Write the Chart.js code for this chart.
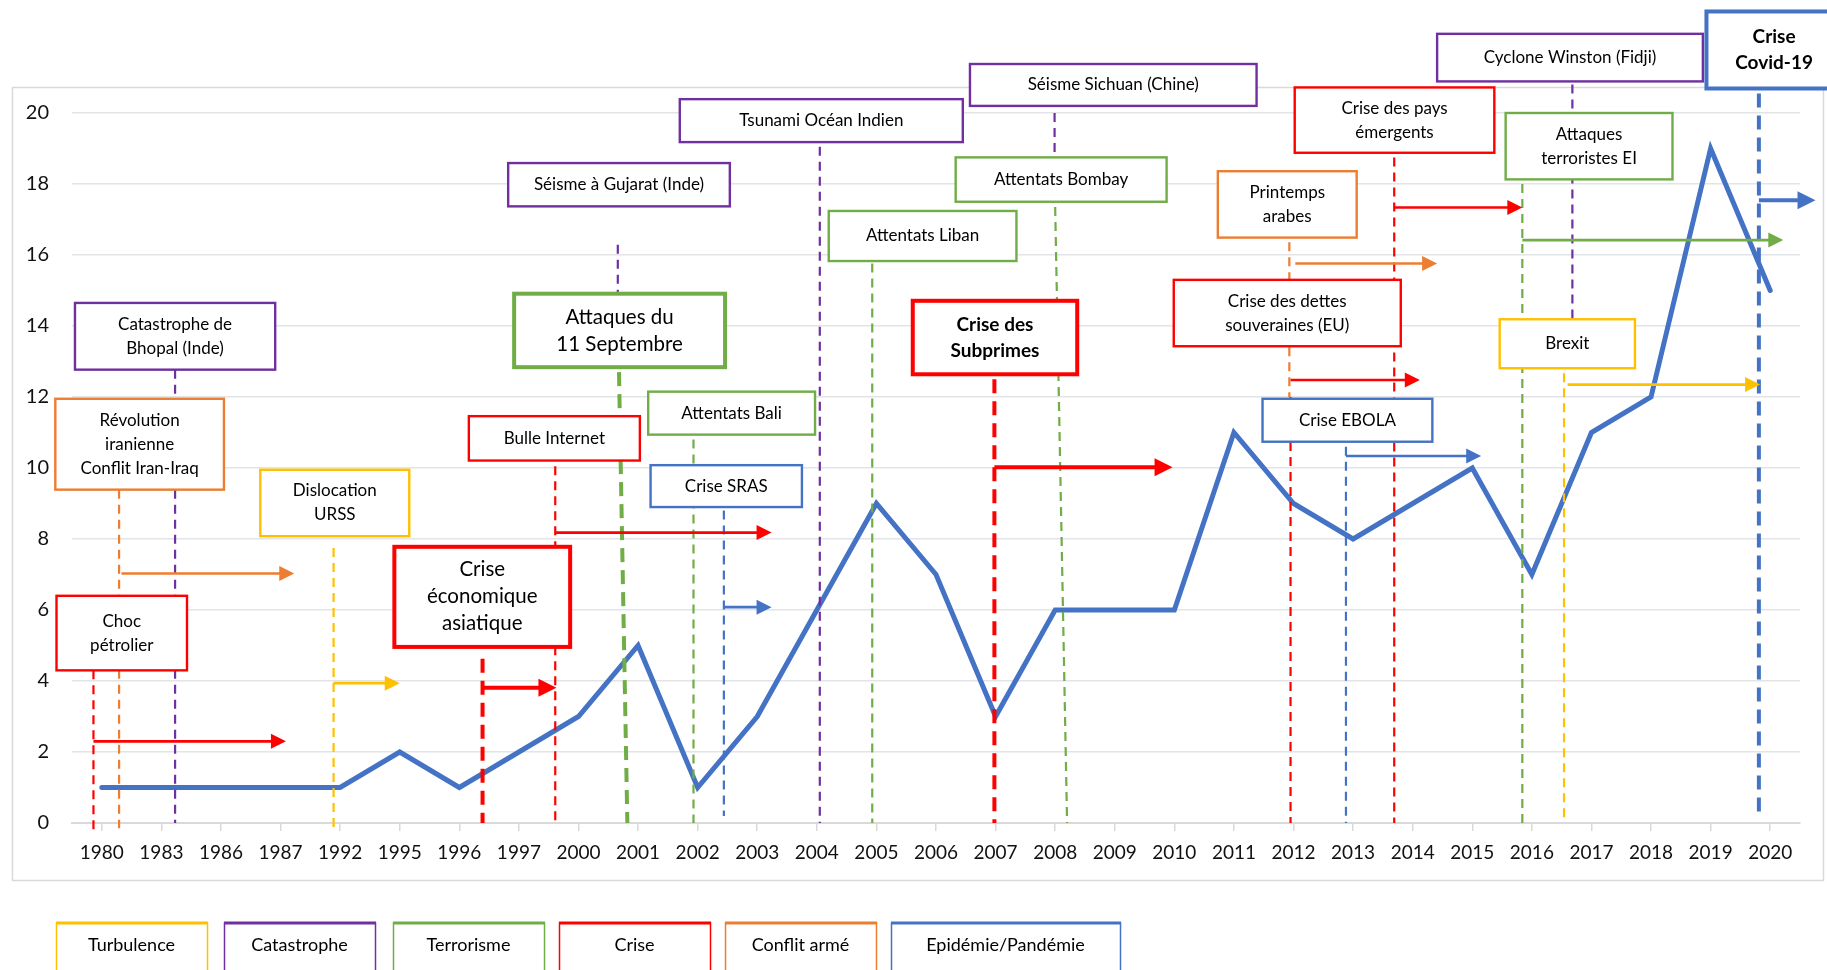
<!DOCTYPE html>
<html><head><meta charset="utf-8">
<script src="https://cdn.jsdelivr.net/npm/chart.js@4.4.0/dist/chart.umd.min.js"></script>
<style>html,body{margin:0;padding:0;background:#fff;overflow:hidden}</style>
</head><body>
<canvas id="c" width="1827" height="970"></canvas>
<script>
// ---- data ----
const years = ['1980','1983','1986','1987','1992','1995','1996','1997','2000','2001','2002','2003','2004','2005','2006','2007','2008','2009','2010','2011','2012','2013','2014','2015','2016','2017','2018','2019','2020'];
const counts = [1,1,1,1,1,2,1,2,3,5,1,3,6,9,7,3,6,6,6,11,9,8,9,10,7,11,12,19,15];
const yMin = 0, yMax = 20, yStep = 2;
const legendLabels = ['Turbulence','Catastrophe','Terrorisme','Crise','Conflit armé','Epidémie/Pandémie'];
const legendColors = ['#FFC000','#7030A0','#70AD47','#FF0000','#ED7D31','#4472C4'];

// ---- event annotations (positions in axis units: x = category index, y = value) ----
const events = [
 {t:['Choc','pétrolier'], k:3, x:-0.14, box:[-0.76,1.43,6.40,4.30], line:[4.30,-0.2], arrow:[2.30,-0.14,3.09]},
 {t:['Révolution','iranienne','Conflit Iran-Iraq'], k:4, x:0.29, box:[-0.78,2.05,11.95,9.39], line:[9.39,-0.15], arrow:[7.03,0.33,3.23]},
 {t:['Catastrophe de','Bhopal (Inde)'], k:1, x:1.23, box:[-0.45,2.91,14.65,12.77], line:[12.77,0]},
 {t:['Dislocation','URSS'], k:0, x:3.89, box:[2.66,5.16,9.95,8.08], line:[7.75,-0.2], arrow:[3.94,3.89,5.0]},
 {t:['Crise','économique','asiatique'], k:3, big:true, strong:true, x:6.39, box:[4.91,7.86,7.78,4.96], line:[4.63,0], arrow:[3.81,6.39,7.63]},
 {t:['Bulle Internet'], k:3, x:7.61, box:[6.16,9.03,11.46,10.21], line:[10.05,0], arrow:[8.18,7.61,11.24]},
 {t:['Attaques du','11 Septembre'], k:2, big:true, strong:true, x:8.68, x2:8.82, box:[6.92,10.46,14.91,12.84], line:[12.7,0]},
 {t:['Séisme à Gujarat (Inde)'], k:1, x:8.66, box:[6.82,10.54,18.59,17.37], line:[16.29,14.91]},
 {t:['Attentats Bali'], k:2, x:9.93, box:[9.17,11.97,12.15,10.94], line:[10.8,0]},
 {t:['Crise SRAS'], k:5, x:10.44, box:[9.21,11.75,10.08,8.90], line:[8.8,0.2], arrow:[6.08,10.44,11.24]},
 {t:['Tsunami Océan Indien'], k:1, x:12.05, box:[9.70,14.45,20.39,19.18], line:[19.05,0]},
 {t:['Attentats Liban'], k:2, x:12.93, box:[12.20,15.35,17.24,15.83], line:[15.76,0]},
 {t:['Crise des','Subprimes'], k:3, bold:true, strong:true, x:14.98, box:[13.61,16.37,14.71,12.64], line:[12.5,0], arrow:[10.02,14.98,17.97]},
 {t:['Séisme Sichuan (Chine)'], k:1, x:15.99, box:[14.57,19.38,21.38,20.20], line:[20.0,18.9]},
 {t:['Attentats Bombay'], k:2, x:16.0, x2:16.2, box:[14.33,17.87,18.75,17.50], line:[17.35,0]},
 {t:['Crise des dettes','souveraines (EU)'], k:3, x:19.95, box:[17.99,21.80,15.30,13.43], line:[12.0,0], arrow:[12.48,19.95,22.12]},
 {t:['Printemps','arabes'], k:4, x:19.93, box:[18.73,21.06,18.36,16.49], line:[16.36,12.0], arrow:[15.76,20.03,22.41]},
 {t:['Crise des pays','émergents'], k:3, x:21.69, box:[20.02,23.37,20.72,18.88], line:[18.75,0], arrow:[17.34,21.69,23.84]},
 {t:['Crise EBOLA'], k:5, x:20.88, box:[19.48,22.33,11.95,10.74], line:[10.6,0], arrow:[10.34,20.88,23.15]},
 {t:['Cyclone Winston (Fidji)'], k:1, x:24.68, box:[22.41,26.87,22.23,20.89], line:[20.8,14.2]},
 {t:['Attaques','terroristes EI'], k:2, x:23.84, box:[23.56,26.36,20.0,18.13], line:[18.0,0], arrow:[16.42,23.84,28.22]},
 {t:['Brexit'], k:0, x:24.54, box:[23.46,25.73,14.19,12.81], line:[12.67,0], arrow:[12.35,24.6,27.83]},
 {t:['Crise','Covid-19'], k:5, bold:true, strong:true, x:27.81, box:[26.93,29.2,22.86,20.69], line:[20.55,0.3], arrow:[17.54,27.81,28.76]}
];

const FONT = 'Lato, "Open Sans", sans-serif';

function arrowTo(ctx, x1, y, x2, lw, color){
  const hl = lw > 3 ? 18 : 15, hw = lw > 3 ? 9 : 7.5;
  ctx.strokeStyle = color; ctx.fillStyle = color; ctx.lineWidth = lw; ctx.setLineDash([]);
  ctx.beginPath(); ctx.moveTo(x1, y); ctx.lineTo(x2 - hl + 2, y); ctx.stroke();
  ctx.beginPath(); ctx.moveTo(x2, y); ctx.lineTo(x2 - hl, y - hw); ctx.lineTo(x2 - hl, y + hw); ctx.closePath(); ctx.fill();
}

const eventsPlugin = {
  id: 'events',
  beforeDraw(chart){
    const ctx = chart.ctx;
    ctx.save();
    ctx.fillStyle = '#fff'; ctx.fillRect(0,0,chart.width,chart.height);
    ctx.strokeStyle = '#d9d9d9'; ctx.lineWidth = 1.5;
    ctx.strokeRect(12.5, 87.5, 1811, 793);
    ctx.restore();
  },
  afterDatasetsDraw(chart){
    const ctx = chart.ctx, xs = chart.scales.x, ys = chart.scales.y;
    const px = v => xs.getPixelForValue(v), py = v => ys.getPixelForValue(v);
    ctx.save();
    // dashed vertical lines
    events.forEach(e => {
      const c = legendColors[e.k];
      ctx.strokeStyle = c;
      ctx.lineWidth = e.strong ? 4 : 2.2;
      ctx.setLineDash(e.strong ? [14,8] : [9,6]);
      ctx.beginPath();
      ctx.moveTo(px(e.x), py(e.line[0]));
      ctx.lineTo(px(e.x2 !== undefined ? e.x2 : e.x), py(e.line[1]));
      ctx.stroke();
    });
    // arrows
    events.forEach(e => {
      if (!e.arrow) return;
      const [ay, ax1, ax2] = e.arrow;
      arrowTo(ctx, px(ax1), py(ay), px(ax2), e.strong ? 4 : 2.6, legendColors[e.k]);
    });
    // boxes
    events.forEach(e => {
      const [bx1, bx2, by1, by2] = e.box;
      const l = px(bx1), r = px(bx2), t = py(by1), b = py(by2);
      ctx.setLineDash([]);
      ctx.fillStyle = '#fff';
      ctx.fillRect(l, t, r - l, b - t);
      ctx.strokeStyle = legendColors[e.k];
      ctx.lineWidth = e.strong ? 4 : 2.4;
      ctx.strokeRect(l, t, r - l, b - t);
      const size = e.big ? 20.5 : (e.bold ? 19 : 17);
      const lh = e.big ? 27 : (e.bold ? 26 : 24);
      ctx.font = (e.bold ? 'bold ' : '') + size + 'px ' + FONT;
      ctx.fillStyle = '#000';
      ctx.textAlign = 'center'; ctx.textBaseline = 'middle';
      const cx = (l + r) / 2, cy = (t + b) / 2;
      const n = e.t.length;
      e.t.forEach((s, i) => ctx.fillText(s, cx, cy + (i - (n - 1) / 2) * lh));
    });
    // legend boxes
    const lx = [56, 224, 393, 559, 725, 891], lw = [151, 151, 151, 151, 151, 229];
    legendLabels.forEach((s, i) => {
      const l = lx[i], w = lw[i], t = 923;
      ctx.strokeStyle = legendColors[i];
      ctx.lineWidth = 1.5;
      ctx.strokeRect(l + 0.5, t, w, 60);
      ctx.lineWidth = 3;
      ctx.beginPath(); ctx.moveTo(l, t); ctx.lineTo(l + w + 1, t); ctx.stroke();
      ctx.font = '18px ' + FONT; ctx.fillStyle = '#000';
      ctx.textAlign = 'center'; ctx.textBaseline = 'middle';
      ctx.fillText(s, l + w / 2, 945);
    });
    ctx.restore();
  }
};

new Chart(document.getElementById('c'), {
  type: 'line',
  data: { labels: years, datasets: [{
    data: counts, borderColor: '#4472C4', borderWidth: 5, pointRadius: 0,
    tension: 0, fill: false, borderCapStyle: 'round', borderJoinStyle: 'miter'
  }]},
  options: {
    responsive: false, animation: false, devicePixelRatio: 1,
    layout: { padding: { left: 12, right: 27, top: 113, bottom: 87 } },
    plugins: { legend: { display: false }, tooltip: { enabled: false } },
    scales: {
      x: {
        offset: true,
        grid: { display: true, drawOnChartArea: false, drawTicks: true, tickLength: 8, color: '#d9d9d9', lineWidth: 1.5 },
        border: { color: '#d9d9d9', width: 2 },
        ticks: { font: { family: FONT, size: 19 }, color: '#111', padding: 10, maxRotation: 0, autoSkip: false },
        afterFit(s){ s.height = 60; }
      },
      y: {
        min: yMin, max: yMax,
        ticks: { stepSize: yStep, font: { family: FONT, size: 20 }, color: '#111', padding: 23 },
        grid: { color: '#e2e4e8', lineWidth: 1.5, drawTicks: false },
        border: { display: false },
        afterFit(s){ s.width = 60; }
      }
    }
  },
  plugins: [eventsPlugin]
});
</script>
</body></html>
